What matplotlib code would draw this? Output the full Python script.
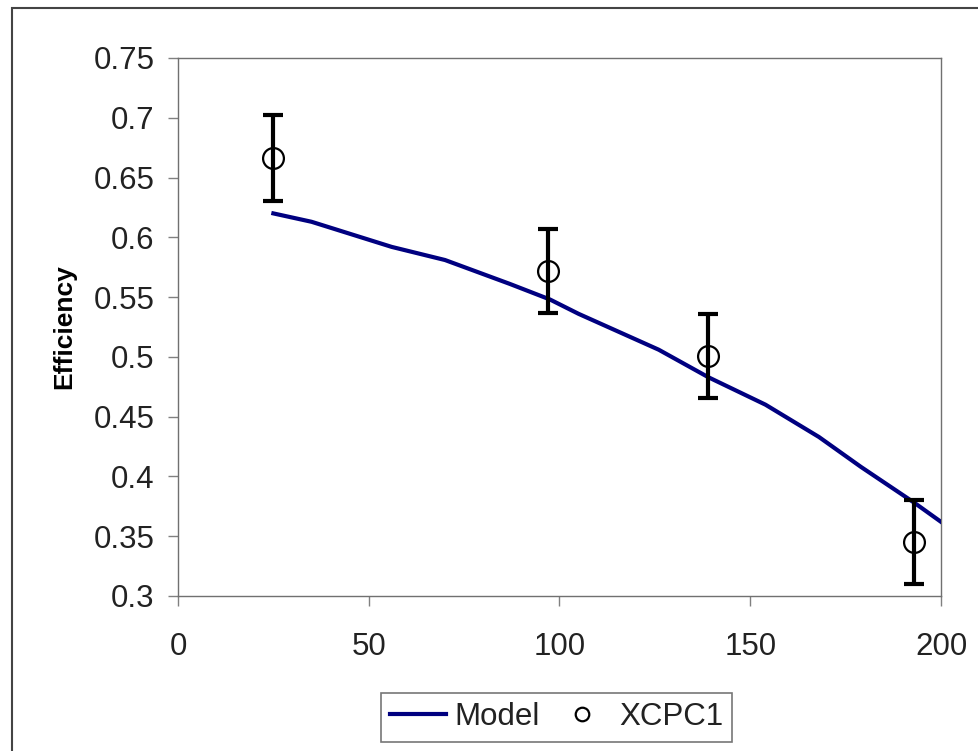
import matplotlib
matplotlib.use('Agg')
import matplotlib.pyplot as plt
from matplotlib.patches import Rectangle

plt.rcParams['font.family'] = ['Liberation Sans', 'DejaVu Sans']

# model curve
model_x = [25, 35, 40, 56, 70, 87, 97.5, 105, 126, 139, 154, 168, 179, 193, 200]
model_y = [0.620, 0.613, 0.608, 0.592, 0.581, 0.561, 0.548, 0.536, 0.506,
           0.483, 0.460, 0.433, 0.408, 0.378, 0.362]

# measured XCPC1 points
xcpc_x = [25, 97, 139, 193]
xcpc_y = [0.666, 0.572, 0.501, 0.345]
xcpc_err = [0.036, 0.035, 0.035, 0.035]

fig = plt.figure(figsize=(9.79, 7.51), dpi=100)
ax = fig.add_axes([0.1818, 0.2064, 0.7794, 0.7164])

ax.plot(model_x, model_y, color='#000080', lw=3, label='Model', zorder=3)
ax.errorbar(xcpc_x, xcpc_y, yerr=xcpc_err, fmt='none', ecolor='black',
            elinewidth=3, capsize=7, capthick=3, zorder=4)
ax.plot(xcpc_x, xcpc_y, 'o', ms=15, mfc='none', mec='black', mew=1.6,
        label='XCPC1', zorder=5)

ax.set_xlim(0, 200)
ax.set_ylim(0.3, 0.75)
ax.set_xticks([0, 50, 100, 150, 200])
ax.set_yticks([0.3, 0.35, 0.4, 0.45, 0.5, 0.55, 0.6, 0.65, 0.7, 0.75])
ax.set_yticklabels(['0.3', '0.35', '0.4', '0.45', '0.5', '0.55', '0.6',
                    '0.65', '0.7', '0.75'])
ax.tick_params(direction='out', length=7, width=1, color='#808080',
               labelsize=22.5, labelcolor='#222222')
ax.tick_params(axis='x', pad=19)
ax.tick_params(axis='y', pad=10)
for s in ax.spines.values():
    s.set_color('#707070')
    s.set_linewidth(1)

ax.set_ylabel('Efficiency', fontsize=19, fontweight='bold', labelpad=12)

leg = fig.legend(loc='lower center', bbox_to_anchor=(0.5685, 0.0), ncol=2,
                 fontsize=22.5, frameon=True, fancybox=False, handlelength=1.8,
                 handletextpad=0.27, columnspacing=0.45, markerscale=0.65,
                 borderpad=0.3, borderaxespad=0.3)
leg.get_frame().set_edgecolor('#555555')
leg.get_frame().set_linewidth(1.2)
for t in leg.get_texts():
    t.set_color('#222222')

# outer chart border
fig.patches.append(Rectangle((12 / 979, -0.1), 1.1, 1.1 - 8 / 751,
                             transform=fig.transFigure, fill=False,
                             edgecolor='#444444', lw=1.5))

fig.savefig('out.png', dpi=100)
